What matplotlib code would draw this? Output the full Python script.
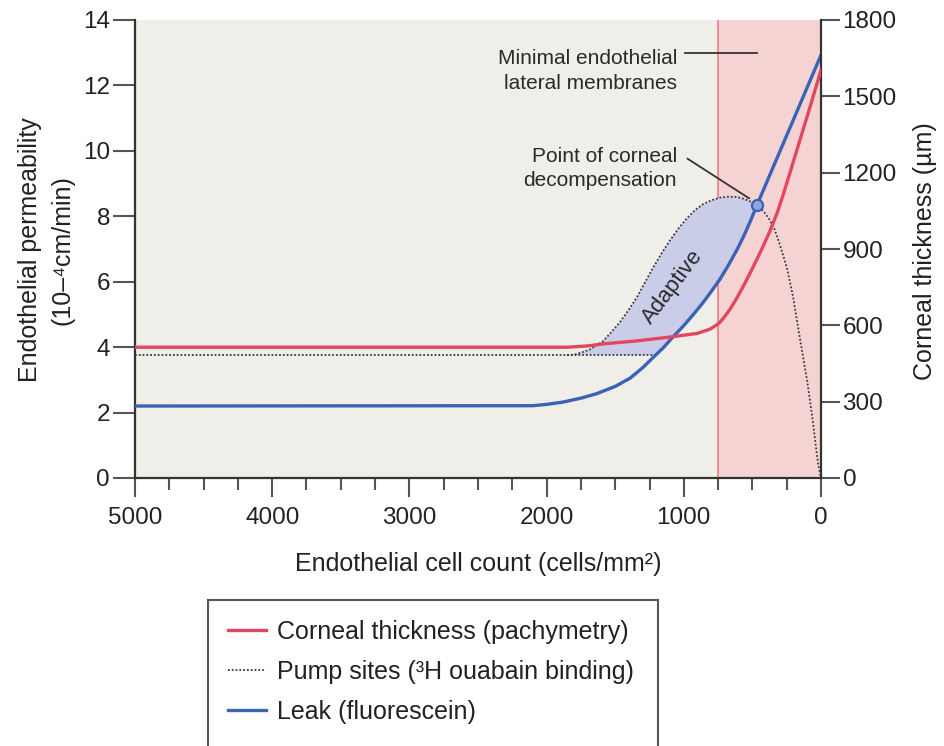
import numpy as np
import matplotlib
matplotlib.use('Agg')
import matplotlib.pyplot as plt
from matplotlib.patches import Rectangle
from matplotlib.lines import Line2D
from matplotlib.ticker import MultipleLocator

plt.rcParams['font.family'] = ['Liberation Sans', 'DejaVu Sans']

# ---------------- data ----------------
# Leak (fluorescein) - endothelial permeability (10^-4 cm/min)
leak_count = [5000, 2100, 2000, 1881, 1750, 1633, 1500, 1392, 1300, 1225, 1150, 1079,
              1000, 930, 860, 800, 736, 670, 612, 560, 518, 466, 350, 248, 120, 0]
leak_perm = [2.20, 2.21, 2.25, 2.32, 2.44, 2.58, 2.80, 3.05, 3.37, 3.68, 3.98, 4.31,
             4.66, 5.00, 5.36, 5.70, 6.08, 6.54, 6.98, 7.42, 7.82, 8.35, 9.49, 10.49, 11.75, 12.93]

# Pump sites (3H ouabain binding) - same left scale
pump_count = [5000, 1850, 1800, 1750, 1684, 1589, 1530, 1465, 1400, 1341, 1280, 1225, 1160,
              1101, 1040, 977, 920, 860, 800, 736, 680, 612, 560, 518, 466, 415, 380, 343,
              299, 250, 204, 153, 100, 60, 22, 0]
pump_perm = [3.76, 3.76, 3.77, 3.83, 3.93, 4.18, 4.45, 4.77, 5.15, 5.53, 6.00, 6.42, 6.88,
             7.26, 7.62, 7.94, 8.18, 8.37, 8.49, 8.57, 8.60, 8.59, 8.53, 8.46, 8.33, 8.13, 7.93, 7.65,
             7.12, 6.45, 5.55, 4.25, 2.95, 1.75, 0.45, 0.0]
pump_base = 3.76

# Corneal thickness (pachymetry), micrometres (right axis)
thick_count = [5000, 1850, 1700, 1589, 1341, 1101, 904, 809, 760, 736, 700, 663, 620, 569,
               520, 466, 420, 372, 320, 277, 226, 153, 80, 0]
thick_um = [514, 514, 519, 527, 539, 554, 568, 585, 602, 612, 636, 663, 701, 751,
            802, 861, 913, 971, 1041, 1111, 1200, 1329, 1458, 1603]

decomp_count = 466            # point of corneal decompensation
minimal_membrane_count = 750  # start of the red zone

x_ticks = [5000, 4000, 3000, 2000, 1000, 0]
left_ticks = [0, 2, 4, 6, 8, 10, 12, 14]
right_ticks = [0, 300, 600, 900, 1200, 1500, 1800]

RED = '#e2475f'
BLUE = '#3b62b5'
DARK = '#333333'
DOT = (0, (1, 1.1))

# ---------------- figure ----------------
fig = plt.figure(figsize=(9.44, 7.46), dpi=100)
ax = fig.add_axes([135/944, 1-478/746, 686/944, 458/746])
ax.set_facecolor('#efeee8')
ax.set_xlim(5000, 0)
ax.set_ylim(0, 14)

ax.axvspan(minimal_membrane_count, 0, color='#f6d3d3', zorder=0.5, lw=0)
ax.axvline(minimal_membrane_count, color='#ec8c96', lw=1.4, zorder=0.6)

# adaptive region: between pump curve (top) and max(baseline, leak) (bottom)
lc = np.array(leak_count); lp = np.array(leak_perm)
pc = np.array(pump_count); pp = np.array(pump_perm)
top_mask = (pc <= 1850) & (pc >= decomp_count)
top_x = pc[top_mask]; top_y = pp[top_mask]
bot_mask = (lc >= decomp_count) & (lp >= pump_base)
bot_x = lc[bot_mask][::-1]; bot_y = lp[bot_mask][::-1]
idx = np.where(lp >= pump_base)[0][0]
x_cross = lc[idx-1] + (pump_base - lp[idx-1]) * (lc[idx] - lc[idx-1]) / (lp[idx] - lp[idx-1])
poly_x = np.concatenate([top_x, bot_x, [x_cross, 1850]])
poly_y = np.concatenate([top_y, bot_y, [pump_base, pump_base]])
ax.fill(poly_x, poly_y, color='#c9cde8', lw=0, zorder=1)

ax.plot(pump_count, pump_perm, color='#3a3a3a', lw=1.3, ls=DOT, zorder=2)
ax.plot([1850, x_cross], [pump_base, pump_base], color='#3a3a3a', lw=1.3, ls=DOT, zorder=2)
ax.plot(leak_count, leak_perm, color=BLUE, lw=2.4, zorder=4)

ax2 = ax.twinx()
ax2.set_ylim(0, 1800)
ax2.plot(thick_count, thick_um, color=RED, lw=2.4, zorder=3)

# marker at point of decompensation (drawn on top)
mk_y = leak_perm[leak_count.index(decomp_count)]
ax2.plot([decomp_count], [mk_y * 1800 / 14], 'o', ms=8, mfc='#93a6dc', mec=BLUE, mew=1.6, zorder=6)

# spines
for a in (ax, ax2):
    a.spines['top'].set_visible(False)
ax2.spines['left'].set_visible(False)
ax2.spines['bottom'].set_visible(False)
ax.spines['right'].set_visible(False)
for s in ('left', 'bottom'):
    ax.spines[s].set_color(DARK); ax.spines[s].set_linewidth(1.6)
ax2.spines['right'].set_color(DARK); ax2.spines['right'].set_linewidth(1.6)

ax.set_xticks(x_ticks)
ax.set_xticklabels([str(v) for v in x_ticks])
ax.xaxis.set_minor_locator(MultipleLocator(250))
ax.tick_params(axis='x', which='major', length=14, width=1.5, color='#555555', pad=7,
               labelsize=17.5, labelcolor='#222222')
ax.tick_params(axis='x', which='minor', length=8.5, width=1.5, color='#555555')
ax.set_yticks(left_ticks)
ax.tick_params(axis='y', length=16, width=1.5, color='#555555', pad=2,
               labelsize=17.5, labelcolor='#222222')
ax2.set_yticks(right_ticks)
ax2.tick_params(axis='y', length=14, width=1.5, color='#555555', pad=1.5,
                labelsize=17.5, labelcolor='#222222')

# annotations
txt_kw = dict(fontsize=15, color='#2a2a2a')
ax.text(1050, 12.44, 'Minimal endothelial\nlateral membranes', ha='right', va='center',
        linespacing=1.35, **txt_kw)
ax.plot([991, decomp_count], [12.99, 12.99], color='#333333', lw=1.3, zorder=5)
ax.text(1050, 9.45, 'Point of corneal\ndecompensation', ha='right', va='center',
        linespacing=1.35, **txt_kw)
ax.annotate('', xy=(decomp_count + 40, mk_y + 0.15), xytext=(991, 9.81),
            arrowprops=dict(arrowstyle='-', color='#333333', lw=1.3), zorder=5)
ax.text(1079, 5.84, 'Adaptive', rotation=53, ha='center', va='center', fontsize=16,
        color='#2a2a2a', rotation_mode='anchor', zorder=5)

# axis labels
fig.text(46/944, 1-250/746, 'Endothelial permeability\n(10–⁴cm/min)', rotation=90,
         ha='center', va='center', fontsize=18, color='#222222', linespacing=1.45)
fig.text(925/944, 1-251/746, 'Corneal thickness (µm)', rotation=90, ha='center', va='center',
         fontsize=18, color='#222222')
fig.text(478/944, 1-564/746, 'Endothelial cell count (cells/mm²)', ha='center', va='center',
         fontsize=18, color='#222222')

# legend box
fig.patches.append(Rectangle((208/944, -0.05), 450/944, 0.05 + 1-600/746,
                             transform=fig.transFigure, fill=True, facecolor='white',
                             edgecolor='#555555', lw=1.5, zorder=0))
handles = [Line2D([], [], color=RED, lw=2.4),
           Line2D([], [], color='#3a3a3a', lw=1.3, ls=DOT),
           Line2D([], [], color=BLUE, lw=2.4)]
labels = ['Corneal thickness (pachymetry)', 'Pump sites (³H ouabain binding)', 'Leak (fluorescein)']
fig.legend(handles, labels, loc='upper left', bbox_to_anchor=(228/944, 1-620/746),
           frameon=False, fontsize=18, handlelength=1.5, handletextpad=0.45,
           labelspacing=0.64, borderpad=0, borderaxespad=0, labelcolor='#222222')

fig.savefig('out.png', dpi=100)
